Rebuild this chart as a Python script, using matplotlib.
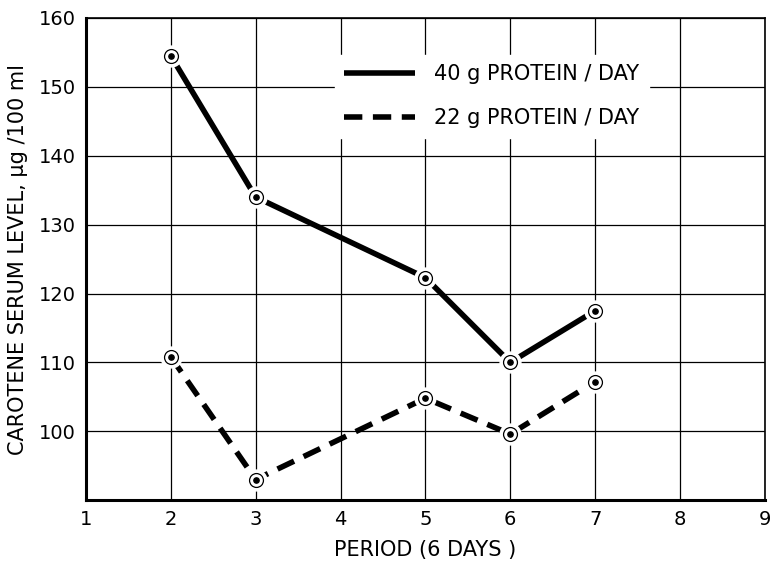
import matplotlib
matplotlib.use("Agg")
import matplotlib.pyplot as plt

periods = [2, 3, 5, 6, 7]
protein_40 = [154.5, 134.0, 122.3, 110.0, 117.5]
protein_22 = [110.8, 93.0, 104.8, 99.6, 107.2]
xticks = [1, 2, 3, 4, 5, 6, 7, 8, 9]
yticks = [100, 110, 120, 130, 140, 150, 160]

plt.rcParams['font.family'] = ['DejaVu Sans']

fig = plt.figure(figsize=(7.71, 5.62), dpi=100)
ax = fig.add_axes([0.1115, 0.110, 0.8805, 0.858])

ax.set_xlim(1, 9)
ax.set_ylim(90, 160)
ax.set_xticks(xticks)
ax.set_yticks(yticks)
ax.grid(True, color='black', lw=0.9)
ax.set_axisbelow(True)
ax.tick_params(length=0, labelsize=14, pad=7)

for side in ['left', 'bottom']:
    ax.spines[side].set_linewidth(2.2)
for side in ['top', 'right']:
    ax.spines[side].set_linewidth(1.2)

l1, = ax.plot(periods, protein_40, color='black', lw=4.0, solid_capstyle='butt',
              label='40 g PROTEIN / DAY', zorder=3)
l2, = ax.plot(periods, protein_22, color='black', lw=4.0, dashes=(3.3, 1.9),
              dash_capstyle='butt', label='22 g PROTEIN / DAY', zorder=3)

for ys in (protein_40, protein_22):
    # white halo so the line stops short of the marker
    ax.plot(periods, ys, ls='none', marker='o', ms=15, mfc='white', mec='white', zorder=4)
    ax.plot(periods, ys, ls='none', marker='o', ms=10, mfc='white', mec='black', mew=0.9, zorder=5)
    ax.plot(periods, ys, ls='none', marker='o', ms=3.8, mfc='black', mec='black', zorder=6)

leg = ax.legend(handles=[l1, l2], loc='upper left', bbox_to_anchor=(0.367, 0.923),
                frameon=True, fontsize=15, handlelength=3.4, handletextpad=0.9,
                labelspacing=1.15, borderpad=0.45, borderaxespad=0, fancybox=False)
leg.get_frame().set_edgecolor('white')
leg.get_frame().set_facecolor('white')
leg.get_frame().set_alpha(1)

ax.set_xlabel('PERIOD (6 DAYS )', fontsize=15, labelpad=8)
ax.set_ylabel('CAROTENE SERUM LEVEL, µg /100 ml', fontsize=15, labelpad=8)

fig.savefig('out.png', dpi=100)
